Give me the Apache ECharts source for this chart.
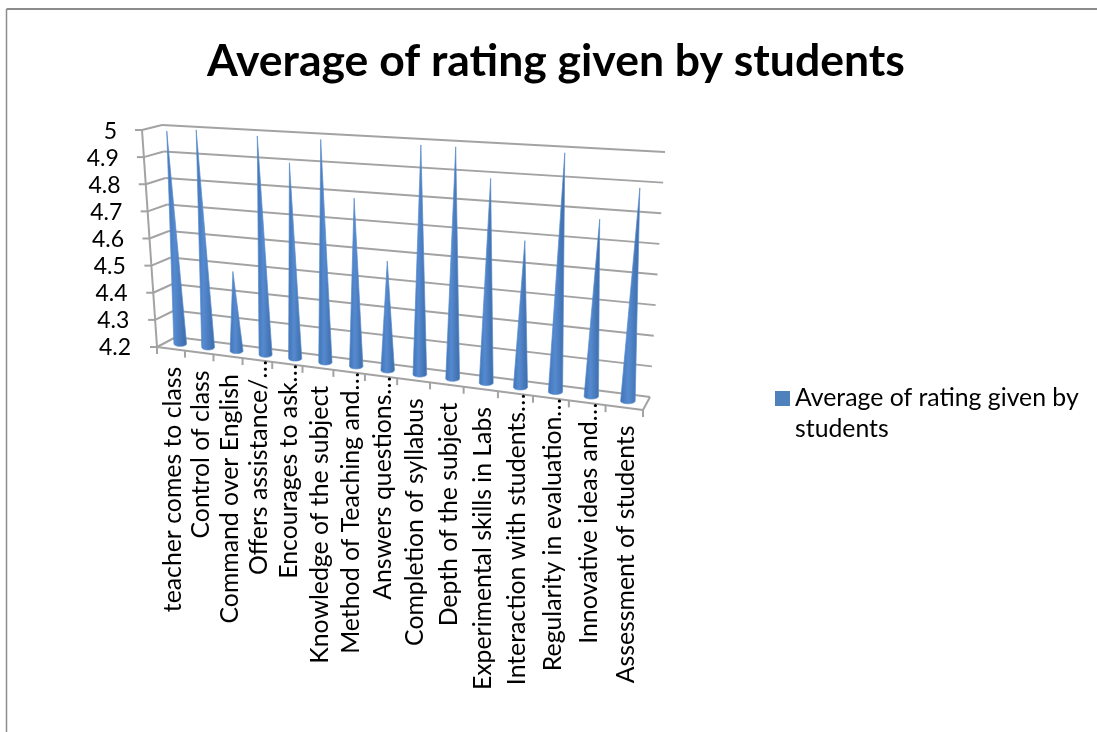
<!DOCTYPE html>
<html>
<head>
<meta charset="utf-8">
<style>html,body{margin:0;padding:0;background:#fff}#c{width:1097px;height:732px}</style>
<script src="https://cdn.jsdelivr.net/npm/echarts@6/dist/echarts.min.js"></script>
</head>
<body>
<div id="c"></div>
<script>
const titleText = 'Average of rating given by students';
const seriesName = 'Average of rating given by students';
const categories = ['teacher comes to class','Control of class','Command over English','Offers assistance/…','Encourages to ask…','Knowledge of the subject','Method of Teaching and…','Answers questions…','Completion of syllabus','Depth of the subject','Experimental skills in Labs','Interaction with students…','Regularity in evaluation…','Innovative ideas and…','Assessment of students'];
const ratings = [4.99,5.0,4.49,4.99,4.9,4.99,4.79,4.58,4.99,4.99,4.89,4.69,4.99,4.78,4.89];
const yTicks = [4.2,4.3,4.4,4.5,4.6,4.7,4.8,4.9,5];

// perspective box of the 3-D plot (front/back, left/right, bottom/top)
const box = {
  flb:[157,347], flt:[142,130], blb:[176,337], blt:[162,125],
  frb:[643,410], frt:[658,158], brb:[650,397], brt:[665,152]
};
const persp = 1.17;
const mix = (a,b,t)=>[a[0]+(b[0]-a[0])*t, a[1]+(b[1]-a[1])*t];
const warp = u => u/(u+persp*(1-u));
function project(u,v,d){
  const f = warp(u);
  const fb = mix(box.flb,box.frb,f), ft = mix(box.flt,box.frt,f);
  const bb = mix(box.blb,box.brb,f), bt = mix(box.blt,box.brt,f);
  return mix(mix(fb,ft,v), mix(bb,bt,v), d);
}
const norm = (api,params,cat,val)=>{
  const c = api.coord([cat,val]), s = params.coordSys;
  return [(c[0]-s.x)/s.width, (s.y+s.height-c[1])/s.height];
};
const lineStyle = {stroke:'#A3A3A3', lineWidth:2, fill:null};
const line = (a,b)=>({type:'line',shape:{x1:a[0],y1:a[1],x2:b[0],y2:b[1]},style:lineStyle});

function renderGrid(params,api){
  const v = norm(api,params,0,api.value(0))[1];
  const children = [
    line(project(0,v,0),project(0,v,1)),
    line(project(0,v,1),project(1,v,1)),
  ];
  const p = project(0,v,0);
  children.push(line(p,[p[0]-7,p[1]]));
  return {type:'group',children};
}
function renderFloor(params,api){
  const n = categories.length, children = [];
  children.push(line(project(0,0,0),project(1,0,0)));
  children.push(line(project(1,0,0),project(1,0,1)));
  children.push(line(project(0,0,0),project(0,1,0)));
  for(let k=0;k<=n;k++){
    const p = project(k/n,0,0);
    children.push(line(p,[p[0],p[1]+7]));
  }
  return {type:'group',children};
}
function renderCone(params,api){
  const cat = api.value(0), val = api.value(1);
  const [u,v] = norm(api,params,cat,val);
  const base = project(u,0,0.5), tip = project(u,v,0.5);
  const rx = 6.3+warp(u), ry = 2.6, pts = [tip];
  for(let i=0;i<=16;i++){
    const t = Math.PI*i/16;
    pts.push([base[0]+rx*Math.cos(t), base[1]+ry*Math.sin(t)]);
  }
  return {type:'polygon',shape:{points:pts},style:{
    fill:new echarts.graphic.LinearGradient(0,0,1,0,[
      {offset:0,color:'#3F73B5'},{offset:0.4,color:'#568AD0'},{offset:1,color:'#3B6BA8'}
    ]),
    stroke:'#5A8CCB',lineWidth:0.7,lineJoin:'miter',miterLimit:30
  }};
}
function renderCatLabel(params,api){
  const cat = api.value(0);
  const u = norm(api,params,cat,4.2)[0];
  const p = project(u,0,0);
  const gap = categories[cat].endsWith('…') ? 0 : 18;
  return {type:'text',x:p[0]+2,y:p[1]+gap,rotation:Math.PI/2,
    style:{text:categories[cat],align:'right',verticalAlign:'middle',
      font:'24.8px Lato',fill:'#000'}};
}
const rich = {};
yTicks.forEach((t,i)=>{ rich['p'+i] = {padding:[0,14*i/(yTicks.length-1),0,0]}; });

const chart = echarts.init(document.getElementById('c'),null,{renderer:'canvas'});
chart.setOption({
  animation:false,
  backgroundColor:'#fff',
  textStyle:{fontFamily:'Lato'},
  title:{text:titleText,left:202,top:34,
    textStyle:{fontFamily:'Lato',fontWeight:'bold',fontSize:44.5,color:'#000'}},
  legend:{data:[seriesName],left:775,top:352,padding:0,orient:'vertical',icon:'rect',itemWidth:15,itemHeight:15,
    selectedMode:false,itemGap:6,
    formatter:()=>'\nAverage of rating given by\nstudents',
    textStyle:{fontFamily:'Lato',fontSize:24.8,color:'#000',lineHeight:31}},
  grid:{left:157,width:486,top:132,height:216},
  xAxis:{type:'category',data:categories,axisLine:{show:false},axisTick:{show:false},axisLabel:{show:false},splitLine:{show:false}},
  yAxis:{type:'value',min:4.2,max:5,interval:0.1,
    axisLine:{show:false},axisTick:{show:false},splitLine:{show:false},
    axisLabel:{margin:26,fontFamily:'Lato',fontSize:23,color:'#000',rich,
      formatter:(val,i)=>'{p'+i+'|'+val+'}'}},
  graphic:[
    {type:'line',shape:{x1:6.5,y1:9,x2:1097,y2:9},style:{stroke:'#8C8C8C',lineWidth:2}},
    {type:'line',shape:{x1:6.5,y1:9,x2:6.5,y2:732},style:{stroke:'#8C8C8C',lineWidth:1.5}}
  ],
  series:[
    {type:'custom',silent:true,z:1,data:yTicks.map(t=>[t]),encode:{y:0},renderItem:renderGrid},
    {type:'custom',silent:true,z:1,data:[[4.2]],encode:{y:0},renderItem:renderFloor},
    {type:'custom',name:seriesName,silent:true,z:3,itemStyle:{color:'#4F81BD'},
      data:ratings.map((r,i)=>[i,r]),encode:{x:0,y:1},renderItem:renderCone},
    {type:'custom',silent:true,z:3,data:categories.map((c,i)=>[i,4.2]),encode:{x:0,y:1},renderItem:renderCatLabel}
  ]
});
</script>
</body>
</html>
